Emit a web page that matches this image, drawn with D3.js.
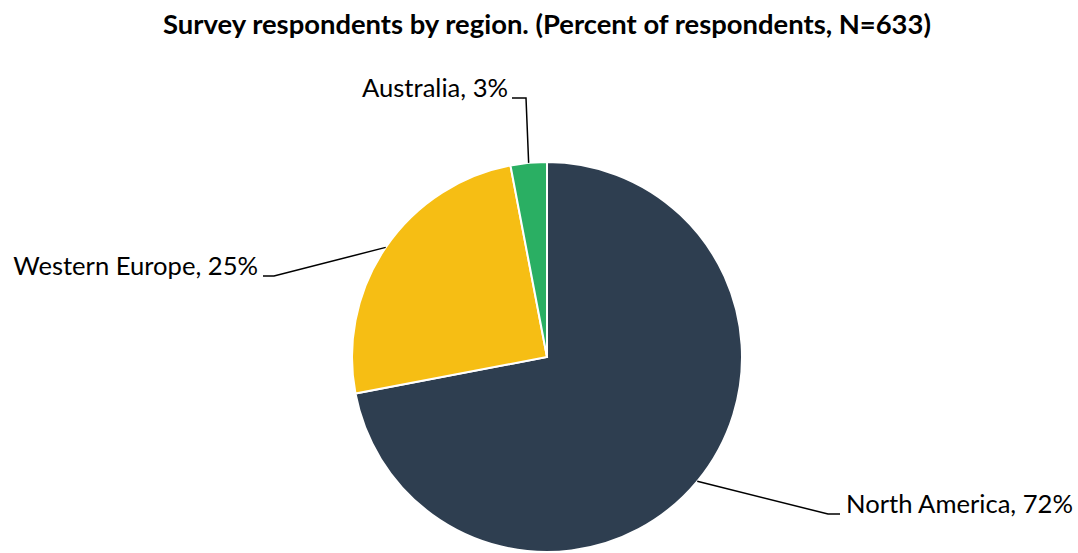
<!DOCTYPE html>
<html><head><meta charset="utf-8">
<script src="https://cdn.jsdelivr.net/npm/d3@7"></script>
<style>body{margin:0;background:#fff}svg{display:block}text{font-family:Lato,"Open Sans",sans-serif}</style>
</head><body>
<svg id="c" width="1078" height="553"></svg>
<script>
const title = "Survey respondents by region. (Percent of respondents, N=633)";
const categories = ["North America", "Western Europe", "Australia"];
const values = [72, 25, 3];
const colors = ["#2E3E50", "#F6BE14", "#2AAF63"];

const svg = d3.select("#c");
const cx = 547, cy = 357, r = 195;

svg.append("text").attr("x", 547).attr("y", 34).attr("text-anchor", "middle")
  .attr("font-weight", "bold").attr("font-size", 27.4).attr("fill", "#000").text(title);

const pie = d3.pie().sort(null).value(d => d.v);
const data = pie(categories.map((c, i) => ({c, v: values[i], col: colors[i]})));
const arc = d3.arc().innerRadius(0).outerRadius(r);
const g = svg.append("g").attr("transform", `translate(${cx},${cy})`);
g.selectAll("path").data(data).join("path")
  .attr("d", arc).attr("fill", d => d.data.col).attr("stroke", "#fff").attr("stroke-width", 2);

const labelPos = {
  "North America": {lx: 293, ly: 157, side: "right"},
  "Western Europe": {lx: -284, ly: -81, side: "left"},
  "Australia": {lx: -21, ly: -259, side: "left", vertical: true}
};
data.forEach(d => {
  const a = (d.startAngle + d.endAngle) / 2;
  const px = r * Math.sin(a), py = -r * Math.cos(a);
  const p = labelPos[d.data.c];
  let pts;
  if (p.vertical) {
    pts = [[px, py], [p.lx, p.ly], [p.lx - 14, p.ly]];
  } else if (p.side === "right") {
    pts = [[px, py], [p.lx - 12, p.ly], [p.lx, p.ly]];
  } else {
    pts = [[px, py], [p.lx + 11, p.ly], [p.lx, p.ly]];
  }
  g.append("path").attr("d", d3.line()(pts)).attr("fill", "none").attr("stroke", "#000").attr("stroke-width", 1.5);
  const tx = p.side === "right" ? p.lx + 6 : (p.vertical ? p.lx - 18 : p.lx - 5);
  g.append("text").attr("x", tx).attr("y", p.ly - 1)
    .attr("text-anchor", p.side === "right" ? "start" : "end")
    .attr("font-size", 25.6).attr("fill", "#000")
    .text(`${d.data.c}, ${d.data.v}%`);
});
</script>
</body></html>
